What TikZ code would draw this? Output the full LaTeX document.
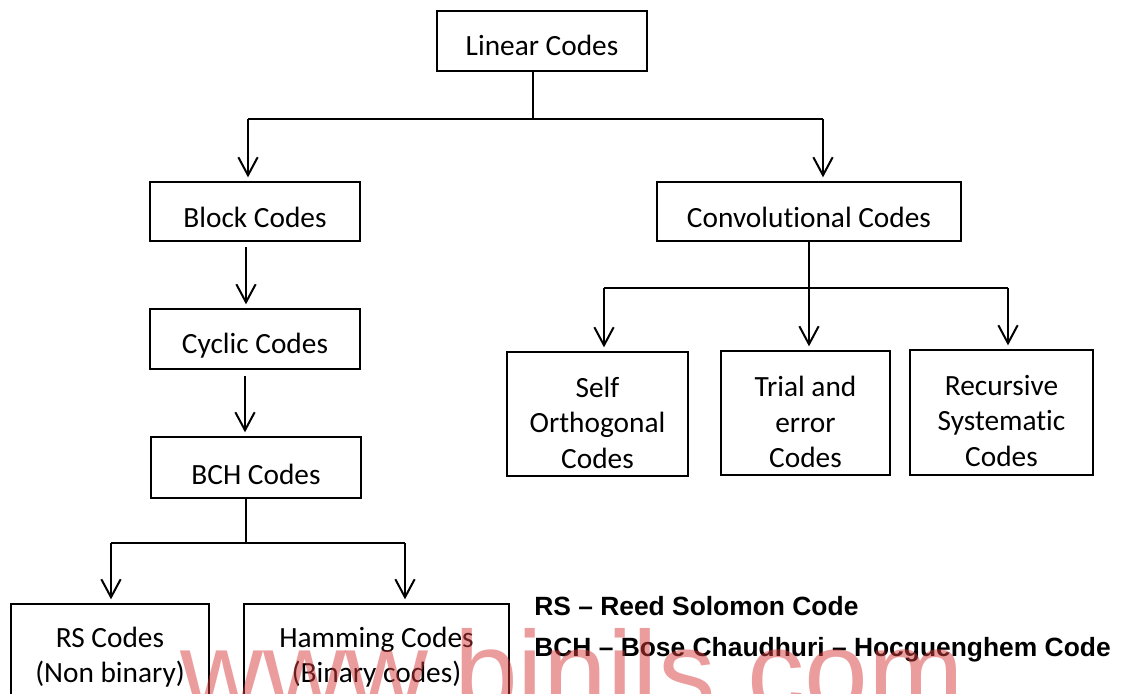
\documentclass[tikz,border=0pt]{standalone}
\usepackage{fontspec}
\setmainfont{Carlito}[Ligatures=NoCommon]
\newfontfamily\legendfont{Liberation Sans}
\usetikzlibrary{arrows.meta}
\definecolor{wm}{RGB}{215,60,60}
\tikzset{
  box/.style={draw=black, line width=1pt, rectangle, inner sep=0pt},
  lbl/.style={inner sep=0pt, font=\fontsize{22}{26.6}\selectfont, align=center},
  conn/.style={line width=1.5pt},
  arr/.style={line width=1.5pt, -{Straight Barb[length=13.5pt, width=14.5pt, line width=1.5pt]}, shorten >=3pt},
  legend/.style={inner sep=0pt, anchor=base west, font=\legendfont\bfseries\fontsize{19.8}{23}\selectfont},
}
\begin{document}
\begin{tikzpicture}[x=0.75pt, y=-0.75pt]
\useasboundingbox (0,0) rectangle (1121,693);
\clip (0,0) rectangle (1121,693);
% boxes
\node[box, minimum width=157.5pt, minimum height=45pt] (lin) at (542,41) {};
\node[box, minimum width=157.5pt, minimum height=44.25pt] (blk) at (255,211.5) {};
\node[box, minimum width=157.5pt, minimum height=45pt] (cyc) at (255,339) {};
\node[box, minimum width=157.5pt, minimum height=45.75pt] (bch) at (256,467.5) {};
\node[box, minimum width=228pt, minimum height=44.25pt] (conv) at (809,211.5) {};
\node[box, minimum width=135.75pt, minimum height=93pt] (self) at (597.5,414) {};
\node[box, minimum width=126.75pt, minimum height=93pt] (trial) at (805.5,413) {};
\node[box, minimum width=137.25pt, minimum height=93.75pt] (rec) at (1001.5,412.5) {};
\node[box, minimum width=148.5pt, minimum height=102pt] (rs) at (110,672) {};
\node[box, minimum width=198.75pt, minimum height=102pt] (ham) at (376.5,672) {};
% labels
\node[lbl] (linT) at (542,45) {Linear Codes};
\node[lbl] (blkT) at (255,217) {Block Codes};
\node[lbl] (cycT) at (255,346) {Cyclic Codes};
\node[lbl] (bchT) at (256,474) {BCH Codes};
\node[lbl] (convT) at (809,217) {Convolutional Codes};
\node[lbl] (selfT) at (597.5,422.5) {Self\\Orthogonal\\Codes};
\node[lbl] (trialT) at (805.5,422) {Trial and\\error\\Codes};
\node[lbl] (recT) at (1001.5,421) {Recursive\\Systematic\\Codes};
\node[lbl] (rsT) at (110,657) {RS Codes\\(Non binary)};
\node[lbl] (hamT) at (376.5,657) {Hamming Codes\\(Binary codes)};
% top connectors
\coordinate (j1) at (533,119);
\coordinate (bL) at (248,119);
\coordinate (bR) at (823,119);
\draw[conn] (lin.south -| j1) -- (j1);
\draw[conn] (bL) -- (bR);
\draw[arr] (bL) -- (bL |- blk.north);
\draw[arr] (bR) -- (bR |- conv.north);
% left chain
\coordinate (c1) at (246,247);
\coordinate (c2) at (245,376);
\draw[arr] (c1) -- (c1 |- cyc.north);
\draw[arr] (c2) -- (c2 |- bch.north);
% BCH split
\coordinate (j2) at (246,543);
\coordinate (dL) at (111,543);
\coordinate (dR) at (405,543);
\draw[conn] (bch.south -| j2) -- (j2);
\draw[conn] (dL) -- (dR);
\draw[arr] (dL) -- (dL |- rs.north);
\draw[arr] (dR) -- (dR |- ham.north);
% convolutional split
\coordinate (j3) at (809,288);
\coordinate (eL) at (604,288);
\coordinate (eR) at (1008,288);
\draw[conn] (conv.south -| j3) -- (j3);
\draw[conn] (eL) -- (eR);
\draw[arr] (eL) -- (eL |- self.north);
\draw[arr] (j3) -- (j3 |- trial.north);
\draw[arr] (eR) -- (eR |- rec.north);
% legend
\node[legend] (leg1) at (534,615) {RS – Reed Solomon Code};
\node[legend] (leg2) at (534,656) {BCH – Bose Chaudhuri – Hocguenghem Code};
% watermark
\node[inner sep=0pt, anchor=base west, text=wm, text opacity=0.5, font=\legendfont\fontsize{86}{90}\selectfont] (wmark) at (180,711) {www.binils.com};
\end{tikzpicture}
\end{document}
